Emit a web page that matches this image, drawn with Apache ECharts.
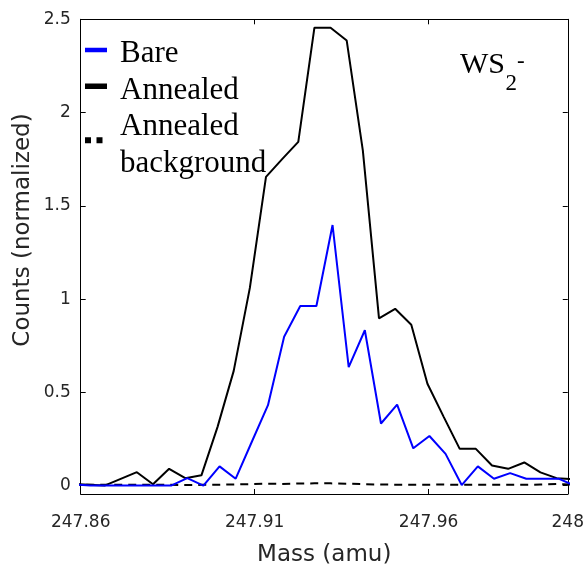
<!DOCTYPE html>
<html><head><meta charset="utf-8">
<script src="https://cdn.jsdelivr.net/npm/echarts@6/dist/echarts.min.js"></script>
<style>html,body{margin:0;padding:0;background:#fff}#c{width:587px;height:572px}</style>
</head><body><div id="c"></div>
<script>
const massAnnealed = [247.85757, 247.86222, 247.86686, 247.87150, 247.87614, 247.88078, 247.88542, 247.89006, 247.89470, 247.89934, 247.90398, 247.90862, 247.91326, 247.91790, 247.92254, 247.92718, 247.93182, 247.93646, 247.94110, 247.94574, 247.95038, 247.95502, 247.95966, 247.96430, 247.96894, 247.97358, 247.97822, 247.98286, 247.98750, 247.99214, 247.99678, 248.00142];
const massBare = [247.85814, 247.86279, 247.86743, 247.87207, 247.87671, 247.88135, 247.88599, 247.89063, 247.89527, 247.89991, 247.90455, 247.90919, 247.91383, 247.91847, 247.92311, 247.92775, 247.93239, 247.93703, 247.94167, 247.94631, 247.95095, 247.95559, 247.96023, 247.96487, 247.96951, 247.97415, 247.97879, 247.98343, 247.98807, 247.99271, 247.99735, 248.00199];
const bare = [0.006, 0.0, 0.0, 0.0, 0.0, 0.0, 0.0, 0.04, 0.0, 0.103, 0.037, 0.235, 0.431, 0.798, 0.963, 0.963, 1.397, 0.635, 0.833, 0.333, 0.434, 0.2, 0.266, 0.17, 0.003, 0.103, 0.037, 0.067, 0.037, 0.037, 0.037, 0.0];
const annealed = [0.01, 0.005, 0.0, 0.036, 0.072, 0.007, 0.09, 0.04, 0.055, 0.315, 0.615, 1.06, 1.655, 1.75, 1.843, 2.455, 2.455, 2.386, 1.796, 0.897, 0.948, 0.862, 0.546, 0.37, 0.197, 0.197, 0.108, 0.09, 0.124, 0.071, 0.04, 0.035];
const background = [0.004, 0.004, 0.004, 0.004, 0.005, 0.004, 0.004, 0.003, 0.004, 0.005, 0.006, 0.008, 0.010, 0.009, 0.011, 0.012, 0.012, 0.010, 0.008, 0.006, 0.005, 0.004, 0.005, 0.006, 0.004, 0.004, 0.004, 0.004, 0.004, 0.006, 0.008, 0.006];
const xTicks = [247.86, 247.91, 247.96, 248];
const yTicks = [0, 0.5, 1, 1.5, 2, 2.5];

const chart = echarts.init(document.getElementById('c'), null, {renderer: 'canvas'});
const sans = 'DejaVu Sans';
const serif = 'Liberation Serif';
const lblColor = '#262626';
const frameLine = {show: true, onZero: false, lineStyle: {color: '#000', width: 1}};

function pairs(xs, ys) { return xs.map((x, i) => [x, ys[i]]); }

// legend icons: 22x22 box (invisible anchors at corners), visible mark raised above centre
const anchors = 'M0,-11L0.01,-11M22,11L21.99,11';
const iconBare = 'path://' + anchors + 'M0,-6.5h22v4.5h-22z';
const iconAnnealed = 'path://' + anchors + 'M0,-7.2h22v5.5h-22z';
const iconBackground = 'path://' + anchors + 'M0,-8.2h6v6h-6zM11.5,-8.2h6v6h-6z';

chart.setOption({
  animation: false,
  backgroundColor: '#fff',
  grid: {left: 80.7, right: 18.7, top: 19.3, bottom: 74.3, containLabel: false},
  xAxis: [
    {type: 'value', min: 247.86, max: 248, position: 'bottom',
     axisLine: frameLine,
     axisTick: {show: true, inside: true, length: 5, customValues: xTicks, lineStyle: {color: '#000'}},
     axisLabel: {customValues: xTicks, margin: 20, fontSize: 17, fontFamily: sans, color: lblColor, formatter: v => String(v)},
     splitLine: {show: false},
     name: 'Mass (amu)', nameLocation: 'middle', nameGap: 50,
     nameTextStyle: {fontSize: 23, fontFamily: sans, color: lblColor}},
    {type: 'value', min: 247.86, max: 248, position: 'top',
     axisLine: frameLine,
     axisTick: {show: true, inside: true, length: 5, customValues: xTicks, lineStyle: {color: '#000'}},
     axisLabel: {show: false}, splitLine: {show: false}}
  ],
  yAxis: [
    {type: 'value', min: -0.045, max: 2.5, position: 'left',
     axisLine: frameLine,
     axisTick: {show: true, inside: true, length: 5, customValues: yTicks, lineStyle: {color: '#000'}},
     axisLabel: {customValues: yTicks, margin: 10, fontSize: 17, fontFamily: sans, color: lblColor, formatter: v => String(v)},
     splitLine: {show: false}},
    {type: 'value', min: -0.045, max: 2.5, position: 'right',
     axisLine: frameLine,
     axisTick: {show: true, inside: true, length: 5, customValues: yTicks, lineStyle: {color: '#000'}},
     axisLabel: {show: false}, splitLine: {show: false}}
  ],
  legend: {
    orient: 'vertical', left: 85, top: 36, padding: 0, itemGap: 0, itemWidth: 22, itemHeight: 22,
    selectedMode: false,
    itemStyle: {borderWidth: 0},
    textStyle: {fontFamily: serif, fontSize: 31, color: '#000', lineHeight: 36.5, padding: [0, 0, 0, 8]},
    formatter: n => n === 'Annealed background' ? 'Annealed\nbackground' : n,
    data: [
      {name: 'Bare', icon: iconBare},
      {name: 'Annealed', icon: iconAnnealed},
      {name: 'Annealed background', icon: iconBackground}
    ]
  },
  graphic: [
    {type: 'text', x: 23, y: 230, rotation: Math.PI / 2,
     style: {text: 'Counts (normalized)', fontSize: 23, fontFamily: sans, fill: lblColor,
             align: 'center', verticalAlign: 'middle', textAlign: 'center', textVerticalAlign: 'middle'}},
    {type: 'text', x: 460, y: 64.8,
     style: {text: 'WS', fontSize: 30, fontFamily: serif, fill: '#000', align: 'left', verticalAlign: 'middle', textAlign: 'left', textVerticalAlign: 'middle'}},
    {type: 'text', x: 505.5, y: 83.7,
     style: {text: '2', fontSize: 23, fontFamily: serif, fill: '#000', align: 'left', verticalAlign: 'middle', textAlign: 'left', textVerticalAlign: 'middle'}},
    {type: 'text', x: 517, y: 61.5,
     style: {text: '-', fontSize: 23, fontFamily: serif, fill: '#000', align: 'left', verticalAlign: 'middle', textAlign: 'left', textVerticalAlign: 'middle'}}
  ],
  series: [
    {name: 'Annealed background', type: 'line', data: pairs(massAnnealed, background), showSymbol: false,
     color: '#000', lineStyle: {color: '#000', width: 2, type: [8, 6]}, z: 2},
    {name: 'Annealed', type: 'line', data: pairs(massAnnealed, annealed), showSymbol: false,
     color: '#000', lineStyle: {color: '#000', width: 2}, z: 3},
    {name: 'Bare', type: 'line', data: pairs(massBare, bare), showSymbol: false,
     color: '#0000ff', lineStyle: {color: '#0000ff', width: 2}, z: 4}
  ]
});
</script>
</body></html>
